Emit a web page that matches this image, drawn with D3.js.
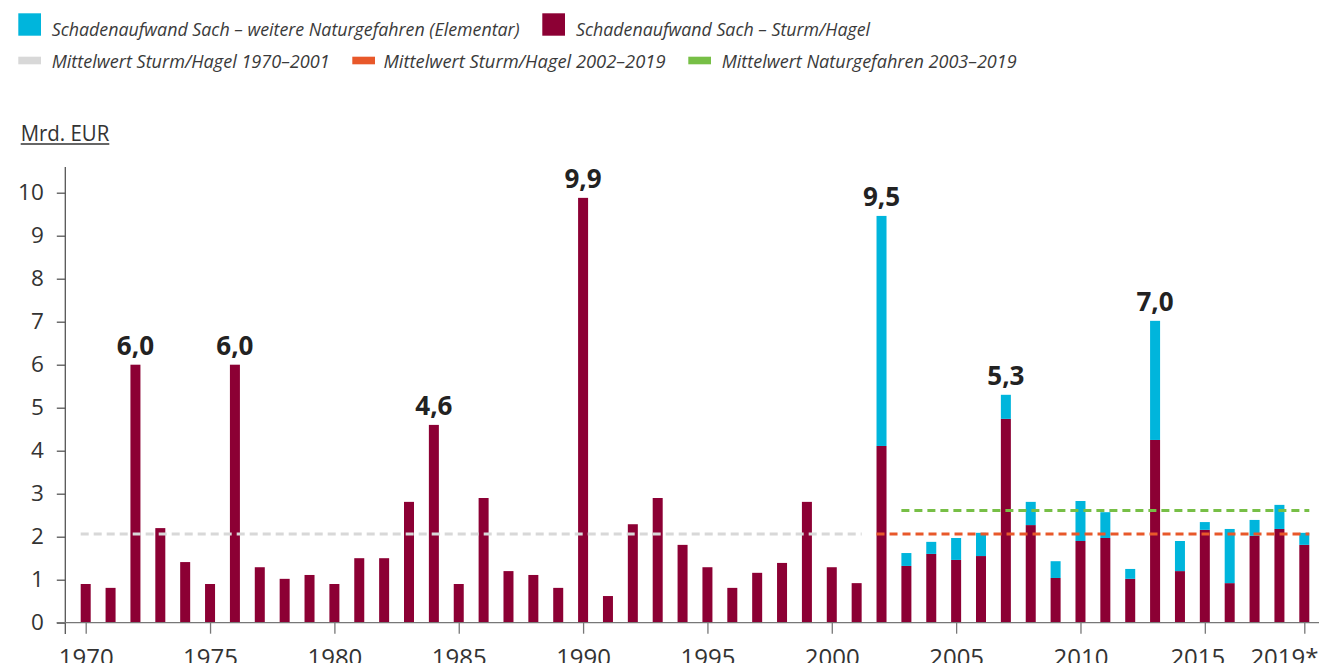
<!DOCTYPE html>
<html>
<head>
<meta charset="utf-8">
<script src="https://cdn.jsdelivr.net/npm/d3@7"></script>
<style>
  html, body { margin: 0; padding: 0; background: #fff; }
  svg { display: block; font-family: "Open Sans", "Noto Sans", sans-serif; }
</style>
</head>
<body>
<svg id="chart" width="1319" height="663"></svg>
<script>
// ---------- data ----------
const years = d3.range(1970, 2020);
const sturmHagel = [0.90, 0.81, 6.00, 2.20, 1.41, 0.90, 6.00, 1.29, 1.02, 1.11,
                    0.90, 1.50, 1.50, 2.81, 4.60, 0.90, 2.90, 1.20, 1.11, 0.81,
                    9.88, 0.62, 2.29, 2.90, 1.81, 1.29, 0.81, 1.16, 1.39, 2.81,
                    1.29, 0.92, 4.11, 1.32, 1.60, 1.46, 1.55, 4.74, 2.27, 1.04,
                    1.90, 1.97, 1.02, 4.25, 1.20, 2.16, 0.92, 2.02, 2.18, 1.81];
const elementar = [0, 0, 0, 0, 0, 0, 0, 0, 0, 0,
                   0, 0, 0, 0, 0, 0, 0, 0, 0, 0,
                   0, 0, 0, 0, 0, 0, 0, 0, 0, 0,
                   0, 0, 5.35, 0.30, 0.28, 0.51, 0.54, 0.56, 0.54, 0.39,
                   0.93, 0.60, 0.23, 2.77, 0.70, 0.18, 1.26, 0.37, 0.56, 0.28];
const labelYears = [1972, 1976, 1984, 1990, 2002, 2007, 2013];
const labelTexts = ["6,0", "6,0", "4,6", "9,9", "9,5", "5,3", "7,0"];
const xTickValues = [1970, 1975, 1980, 1985, 1990, 1995, 2000, 2005, 2010, 2015, 2019];
const xTickLabels = ["1970", "1975", "1980", "1985", "1990", "1995", "2000", "2005", "2010", "2015", "2019*"];
const yTickValues = [0, 1, 2, 3, 4, 5, 6, 7, 8, 9, 10];
const meanNames = ["Mittelwert Sturm/Hagel 1970–2001", "Mittelwert Sturm/Hagel 2002–2019", "Mittelwert Naturgefahren 2003–2019"];
const meanValues = [2.06, 2.06, 2.61];
const meanFrom = [1970, 2002, 2003];
const meanTo = [2001, 2019, 2019];
const seriesNames = ["Schadenaufwand Sach – weitere Naturgefahren (Elementar)", "Schadenaufwand Sach – Sturm/Hagel"];
const unitLabel = "Mrd. EUR";

// ---------- styles ----------
const C_RED = "#8c0034", C_CYAN = "#00b5dc";
const meanColors = ["#d8d8d8", "#e8582a", "#77bf46"];
const TXT = "#333333";

const svg = d3.select("#chart");
const x = d3.scaleLinear().domain([1970, 2019]).range([85.7, 1304.3]);
const y = d3.scaleLinear().domain([0, 10]).range([622.7, 192.7]);
const bw = 10;

const rows = years.map((yr, i) => ({ year: yr, sturm: sturmHagel[i], elem: elementar[i] }));
const stacked = d3.stack().keys(["sturm", "elem"])(rows);
const colors = { sturm: C_RED, elem: C_CYAN };

// bars
svg.append("g").selectAll("g").data(stacked).join("g")
  .attr("fill", d => colors[d.key])
  .selectAll("rect").data(d => d.filter(p => p[1] - p[0] > 0)).join("rect")
  .attr("x", d => x(d.data.year) - bw / 2)
  .attr("width", bw)
  .attr("y", d => y(d[1]))
  .attr("height", d => y(d[0]) - y(d[1]));

// mean lines
svg.append("g").selectAll("line").data(meanValues).join("line")
  .attr("x1", (d, i) => x(meanFrom[i]) - bw / 2)
  .attr("x2", (d, i) => x(meanTo[i]) + bw / 2)
  .attr("y1", d => y(d)).attr("y2", d => y(d))
  .attr("stroke", (d, i) => meanColors[i])
  .attr("stroke-width", 3)
  .attr("stroke-dasharray", "8,5");

// y axis
const yAxis = svg.append("g").attr("transform", "translate(65.3,0)")
  .call(d3.axisLeft(y).tickValues(yTickValues).tickSize(8.5).tickPadding(13).tickFormat(d3.format("d")));
yAxis.select(".domain").remove();
yAxis.selectAll(".tick line").attr("stroke", "#555").attr("stroke-width", 1.3);
yAxis.selectAll("text").attr("font-size", 22.5).attr("fill", TXT).attr("font-family", "Open Sans");
svg.append("line").attr("x1", 65.3).attr("x2", 65.3).attr("y1", 167).attr("y2", 634)
  .attr("stroke", "#555").attr("stroke-width", 1.3);

// x axis
const xAxis = svg.append("g").attr("transform", `translate(0,${y(0)})`)
  .call(d3.axisBottom(x).tickValues(xTickValues).tickSize(11).tickPadding(15)
    .tickFormat((d, i) => xTickLabels[i]));
xAxis.select(".domain").remove();
xAxis.selectAll(".tick line").attr("stroke", "#777").attr("stroke-width", 1.3);
xAxis.selectAll("text").attr("font-size", 24).attr("fill", TXT).attr("font-family", "Open Sans");
// keep the last labels inside the frame, as in the reference
xAxis.selectAll(".tick").filter(d => d === 2015).select("text").attr("dx", -7.5);
xAxis.selectAll(".tick").filter(d => d === 2019).select("text")
  .attr("text-anchor", "end").attr("x", 1318 - x(2019));
svg.append("line").attr("x1", 56.7).attr("x2", 1319).attr("y1", y(0)).attr("y2", y(0))
  .attr("stroke", "#777").attr("stroke-width", 1.3);

// value labels
svg.append("g").selectAll("text").data(labelYears).join("text")
  .attr("x", d => x(d))
  .attr("y", d => { const i = years.indexOf(d); return y(sturmHagel[i] + elementar[i]) - 9.5; })
  .attr("text-anchor", "middle")
  .attr("font-size", 26).attr("font-weight", 700).attr("fill", "#222")
  .text((d, i) => labelTexts[i]);

// unit label
svg.append("text").attr("x", 20.7).attr("y", 140.7).attr("font-size", 21).attr("fill", TXT)
  .attr("textLength", 88.6).attr("lengthAdjust", "spacingAndGlyphs").text(unitLabel);
svg.append("line").attr("x1", 20.7).attr("x2", 109.3).attr("y1", 144).attr("y2", 144)
  .attr("stroke", TXT).attr("stroke-width", 1.7);

// legend
const legendItems = [
  { type: "box", color: C_CYAN, x: 18.3, text: seriesNames[0], tx: 51.7, tw: 468, row: 0 },
  { type: "box", color: C_RED, x: 542.3, text: seriesNames[1], tx: 576, tw: 294, row: 0 },
  { type: "line", color: meanColors[0], x: 18.3, text: meanNames[0], tx: 51.7, tw: 278, row: 1 },
  { type: "line", color: meanColors[1], x: 352.3, text: meanNames[1], tx: 383.5, tw: 282, row: 1 },
  { type: "line", color: meanColors[2], x: 688.3, text: meanNames[2], tx: 721.7, tw: 295, row: 1 }
];
const lg = svg.append("g");
legendItems.forEach(it => {
  if (it.type === "box") {
    lg.append("rect").attr("x", it.x).attr("y", 13.3).attr("width", 22.7).attr("height", 22.4).attr("fill", it.color);
  } else {
    lg.append("rect").attr("x", it.x).attr("y", 56.7).attr("width", 22.7).attr("height", 7.6).attr("fill", it.color);
  }
  lg.append("text").attr("x", it.tx).attr("y", it.row === 0 ? 35.5 : 67.5)
    .attr("font-size", 18.5).attr("font-style", "italic").attr("fill", "#3a3a3a")
    .attr("textLength", it.tw).attr("lengthAdjust", "spacingAndGlyphs")
    .text(it.text);
});
</script>
</body>
</html>
